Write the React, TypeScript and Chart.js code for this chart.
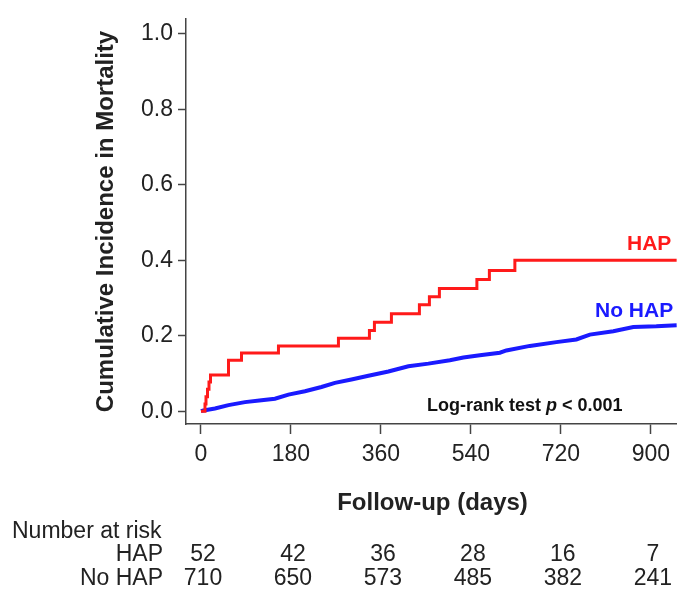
import React, { useEffect, useRef } from "react";
import { Chart, registerables } from "chart.js";

Chart.register(...registerables);

// ---- data ----
const hapDays = [0, 8, 10, 13, 16, 19, 55, 81, 155, 275, 337, 347, 381, 437, 457, 477, 552, 577, 628, 952];
const hapValues = [0, 0.019, 0.038, 0.058, 0.077, 0.096, 0.135, 0.154, 0.173, 0.193, 0.214, 0.236, 0.258, 0.282, 0.303, 0.325, 0.349, 0.373, 0.4, 0.4];

const noHapDays = [0, 5, 28, 55, 88, 121, 148, 175, 208, 241, 268, 301, 335, 375, 415, 455, 498, 525, 558, 598, 611, 658, 711, 751, 778, 825, 865, 911, 952];
const noHapValues = [0, 0.002, 0.007, 0.016, 0.024, 0.029, 0.033, 0.044, 0.053, 0.064, 0.075, 0.084, 0.094, 0.105, 0.119, 0.126, 0.135, 0.142, 0.148, 0.155, 0.161, 0.173, 0.183, 0.19, 0.203, 0.212, 0.223, 0.225, 0.228];

const xTicks = [0, 180, 360, 540, 720, 900];
const yTicks = [0, 0.2, 0.4, 0.6, 0.8, 1.0];

const riskHap = [52, 42, 36, 28, 16, 7];
const riskNoHap = [710, 650, 573, 485, 382, 241];

const yTitle = "Cumulative Incidence in Mortality";
const xTitle = "Follow-up (days)";
const riskTitle = "Number at risk";
const seriesNames = ["HAP", "No HAP"];

const AXIS_COLOR = "#444";
const TEXT_COLOR = "#222";
const REG_FONT = "'Liberation Sans', Arial, sans-serif";
const BOLD_FONT = "'Liberation Sans', Arial, sans-serif";

const annotations = {
  id: "kmAnnotations",
  afterDraw(chart: any) {
    const ctx = chart.ctx;
    const xs = chart.scales.x;
    ctx.save();
    ctx.fillStyle = TEXT_COLOR;

    // y title
    ctx.save();
    ctx.translate(113, 221.5);
    ctx.rotate(-Math.PI / 2);
    ctx.font = `bold 24px ${BOLD_FONT}`;
    ctx.textAlign = "center";
    ctx.textBaseline = "alphabetic";
    ctx.fillText(yTitle, 0, 0);
    ctx.restore();

    // x title
    ctx.font = `bold 24px ${BOLD_FONT}`;
    ctx.textAlign = "center";
    ctx.textBaseline = "alphabetic";
    ctx.fillText(xTitle, 432.5, 510);

    // series labels
    ctx.textAlign = "left";
    ctx.font = `bold 21px ${BOLD_FONT}`;
    ctx.fillStyle = "#ff1a1a";
    ctx.fillText(seriesNames[0], 627, 250);
    ctx.fillStyle = "#1a1aff";
    ctx.fillText(seriesNames[1], 595, 317);

    // log-rank text
    ctx.fillStyle = "#111";
    let lx = 427;
    const ly = 411;
    ctx.font = `bold 18px ${BOLD_FONT}`;
    const p1 = "Log-rank test ";
    ctx.fillText(p1, lx, ly);
    lx += ctx.measureText(p1).width;
    ctx.font = `italic bold 18px ${BOLD_FONT}`;
    ctx.fillText("p", lx, ly);
    lx += ctx.measureText("p").width;
    ctx.font = `bold 18px ${BOLD_FONT}`;
    ctx.fillText(" < 0.001", lx, ly);

    // risk table
    ctx.fillStyle = TEXT_COLOR;
    ctx.font = `23px ${REG_FONT}`;
    ctx.textAlign = "left";
    ctx.fillText(riskTitle, 12, 538);
    ctx.textAlign = "right";
    ctx.fillText(seriesNames[0], 163, 561);
    ctx.fillText(seriesNames[1], 163, 585);
    ctx.textAlign = "center";
    xTicks.forEach((t, i) => {
      const px = xs.getPixelForValue(t) + 2;
      ctx.fillText(String(riskHap[i]), px, 561);
      ctx.fillText(String(riskNoHap[i]), px, 585);
    });

    ctx.restore();
  },
};

export default function App() {
  const ref = useRef<HTMLCanvasElement>(null);

  useEffect(() => {
    if (!ref.current) return;
    const chart = new Chart(ref.current, {
      type: "line",
      data: {
        datasets: [
          {
            label: seriesNames[0],
            data: hapDays.map((d, i) => ({ x: d, y: hapValues[i] })),
            borderColor: "#ff1a1a",
            borderWidth: 3,
            stepped: true,
            pointRadius: 0,
            fill: false,
          },
          {
            label: seriesNames[1],
            data: noHapDays.map((d, i) => ({ x: d, y: noHapValues[i] })),
            borderColor: "#1a1aff",
            borderWidth: 4,
            pointRadius: 0,
            fill: false,
          },
        ],
      },
      options: {
        responsive: false,
        animation: false,
        layout: { padding: { top: 15, left: 0, right: 0, bottom: 0 } },
        plugins: {
          legend: { display: false },
          tooltip: { enabled: false },
        },
        scales: {
          x: {
            type: "linear",
            min: -30,
            max: 952,
            afterBuildTicks: (s: any) => {
              s.ticks = xTicks.map((v) => ({ value: v }));
            },
            afterFit: (s: any) => {
              s.height = 169;
            },
            ticks: {
              autoSkip: false,
              maxRotation: 0,
              padding: 7,
              color: TEXT_COLOR,
              font: { family: REG_FONT, size: 23 },
              callback: (v: any) => String(v),
            },
            grid: {
              drawOnChartArea: false,
              drawTicks: true,
              tickLength: 10,
              tickColor: AXIS_COLOR,
              tickWidth: 1.5,
            },
            border: { display: true, color: AXIS_COLOR, width: 1.5 },
          },
          y: {
            type: "linear",
            min: -0.034,
            max: 1.04,
            afterBuildTicks: (s: any) => {
              s.ticks = yTicks.map((v) => ({ value: v }));
            },
            afterFit: (s: any) => {
              s.width = 186;
            },
            ticks: {
              autoSkip: false,
              padding: 5,
              color: TEXT_COLOR,
              font: { family: REG_FONT, size: 23 },
              callback: (v: any) => Number(v).toFixed(1),
            },
            grid: {
              drawOnChartArea: false,
              drawTicks: true,
              tickLength: 8,
              tickColor: AXIS_COLOR,
              tickWidth: 1.5,
            },
            border: { display: true, color: AXIS_COLOR, width: 1.5 },
          },
        },
      },
      plugins: [annotations],
    });
    return () => chart.destroy();
  }, []);

  return (
    <div style={{ position: "absolute", left: 0, top: 0, width: 677, height: 593, background: "#fff" }}>
      <canvas ref={ref} width={677} height={593} style={{ display: "block" }} />
    </div>
  );
}
